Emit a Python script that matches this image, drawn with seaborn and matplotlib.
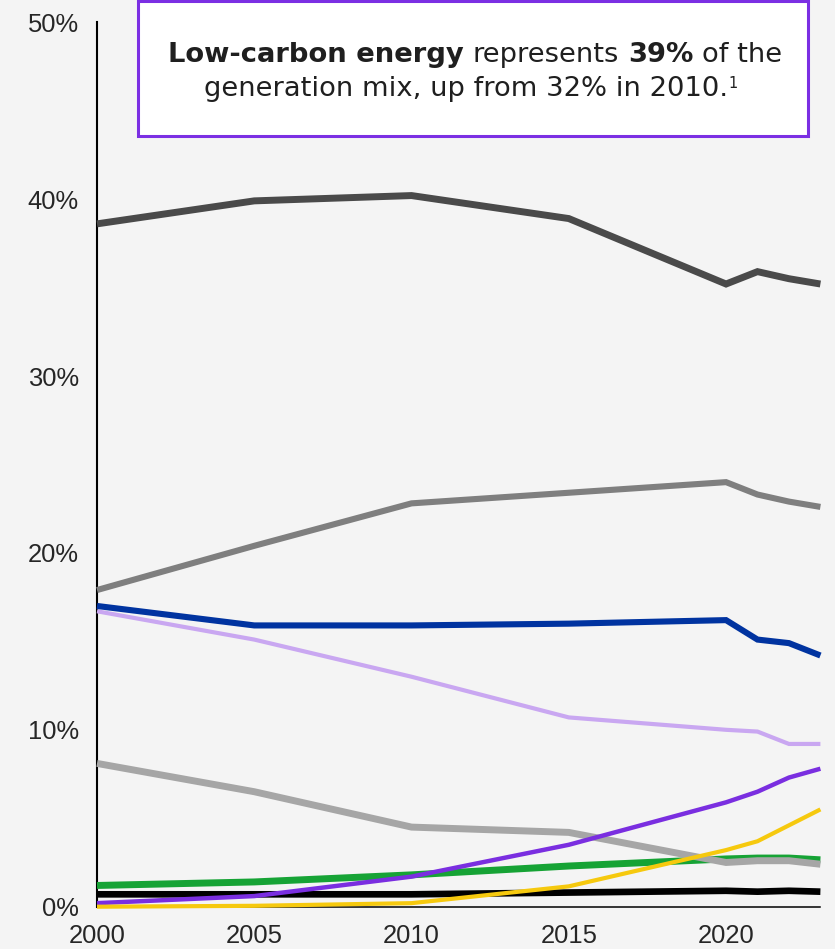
import matplotlib
matplotlib.use("Agg")
import matplotlib.pyplot as plt
import seaborn as sns
import pandas as pd
from matplotlib.patches import Rectangle

# ---- data ----
years = [2000, 2005, 2010, 2015, 2020, 2021, 2022, 2023]
coal = [38.6, 39.9, 40.2, 38.9, 35.2, 35.9, 35.5, 35.2]
gas = [17.9, 20.4, 22.8, 23.4, 24.0, 23.3, 22.9, 22.6]
nuclear = [17.0, 15.9, 15.9, 16.0, 16.2, 15.1, 14.9, 14.2]
hydro = [16.7, 15.1, 13.0, 10.7, 10.0, 9.9, 9.2, 9.2]
oil = [8.1, 6.5, 4.5, 4.2, 2.5, 2.6, 2.6, 2.4]
wind = [0.2, 0.6, 1.7, 3.5, 5.9, 6.5, 7.3, 7.8]
solar = [0.0, 0.05, 0.2, 1.15, 3.2, 3.7, 4.6, 5.5]
bioenergy = [1.2, 1.4, 1.8, 2.3, 2.7, 2.75, 2.75, 2.65]
other = [0.7, 0.7, 0.7, 0.8, 0.9, 0.85, 0.9, 0.85]
ytick_vals = [0, 10, 20, 30, 40, 50]
ytick_labels = ["0%", "10%", "20%", "30%", "40%", "50%"]
xtick_vals = [2000, 2005, 2010, 2015, 2020]

series = {
    "Other": other, "Bioenergy": bioenergy, "Oil": oil, "Hydro": hydro,
    "Nuclear": nuclear, "Gas": gas, "Coal": coal, "Wind": wind, "Solar": solar,
}
styles = {
    "Other": ("#000000", 4.8),
    "Bioenergy": ("#16a335", 5.0),
    "Oil": ("#a6a6a6", 5.0),
    "Hydro": ("#c9a7f1", 3.0),
    "Nuclear": ("#0033a0", 4.4),
    "Gas": ("#7f7f7f", 4.4),
    "Coal": ("#4a4a4a", 5.0),
    "Wind": ("#7a2ee0", 3.2),
    "Solar": ("#f6c90e", 3.0),
}

rows = []
for name, vals in series.items():
    for y, v in zip(years, vals):
        rows.append({"year": y, "share": v, "source": name})
df = pd.DataFrame(rows)

BG = "#f4f4f4"
sns.set_theme(style="white")
plt.rcParams["font.family"] = ["Liberation Sans", "DejaVu Sans"]

fig = plt.figure(figsize=(8.35, 9.49), dpi=100, facecolor=BG)
ax = fig.add_axes([97 / 835, 1 - 906.7 / 949, (820.4 - 97) / 835, (906.7 - 22.2) / 949])
ax.set_facecolor(BG)

for i, name in enumerate(series):
    color, lw = styles[name]
    sub = df[df["source"] == name]
    sns.lineplot(data=sub, x="year", y="share", ax=ax, color=color,
                 linewidth=lw, clip_on=False, zorder=3 + i,
                 solid_capstyle="butt", solid_joinstyle="miter")

ax.set_xlim(2000, 2023)
ax.set_ylim(0, 50)
ax.set_xticks(xtick_vals)
ax.set_xticklabels([str(x) for x in xtick_vals])
ax.set_yticks(ytick_vals)
ax.set_yticklabels(ytick_labels)
ax.set_xlabel("")
ax.set_ylabel("")
ax.tick_params(axis="both", length=0, labelsize=18.4, colors="#262626")
ax.tick_params(axis="y", pad=13)
ax.tick_params(axis="x", pad=12.5)
ax.grid(False)
for s in ["top", "right"]:
    ax.spines[s].set_visible(False)
ax.spines["left"].set_color("#000000")
ax.spines["left"].set_linewidth(1.5)
ax.spines["bottom"].set_color("#000000")
ax.spines["bottom"].set_linewidth(1.1)
ax.spines["bottom"].set_zorder(2)

# ---- annotation box ----
W, H = 835, 949
rect = Rectangle((138 / W, 1 - 136 / H), (808 - 138) / W, (135) / H,
                 transform=fig.transFigure, facecolor="white",
                 edgecolor="#7b2fe3", linewidth=2.2, zorder=10)
fig.patches.append(rect)

renderer = fig.canvas.get_renderer()
TFAM = ["DejaVu Sans"]
TC = "#1f1f1f"


def tw(t):
    return t.get_window_extent(renderer=renderer).width


line1 = [("Low-carbon energy", "bold"), ("represents", "normal"),
         ("39%", "bold"), ("of the", "normal")]


def build_line1(fs, y):
    a = fig.text(0, 0, "x x", fontsize=fs, family=TFAM)
    b = fig.text(0, 0, "xx", fontsize=fs, family=TFAM)
    sp = tw(a) - tw(b)
    a.remove(); b.remove()
    ts = [fig.text(0, y, s, fontsize=fs, fontweight=wg, color=TC, family=TFAM,
                   va="baseline", ha="left", zorder=11) for s, wg in line1]
    ws = [tw(t) for t in ts]
    return ts, ws, sum(ws) + sp * (len(ts) - 1), sp


# fit font size so that line 1 spans the same width as in the reference
ts, ws, total, sp = build_line1(20, 0.5)
for t in ts:
    t.remove()
FS = 20 * 614 / total

ts, ws, total, sp = build_line1(FS, 1 - 61.7 / H)
x = 475 - total / 2
for t, w in zip(ts, ws):
    t.set_x(x / W)
    x += w + sp

l2 = fig.text(0, 1 - 95.5 / H, "generation mix, up from 32% in 2010.",
              fontsize=FS, color=TC, family=TFAM, va="baseline", ha="left",
              zorder=11)
sup = fig.text(0, 1 - 88.5 / H, "1", fontsize=10.5, color=TC, family=TFAM,
               va="baseline", ha="left", zorder=11)
w2 = tw(l2)
wsup = tw(sup)
x2 = 471 - (w2 + wsup + 1) / 2
l2.set_x(x2 / W)
sup.set_x((x2 + w2 + 1) / W)

fig.savefig("out.png", dpi=100, facecolor=BG)
